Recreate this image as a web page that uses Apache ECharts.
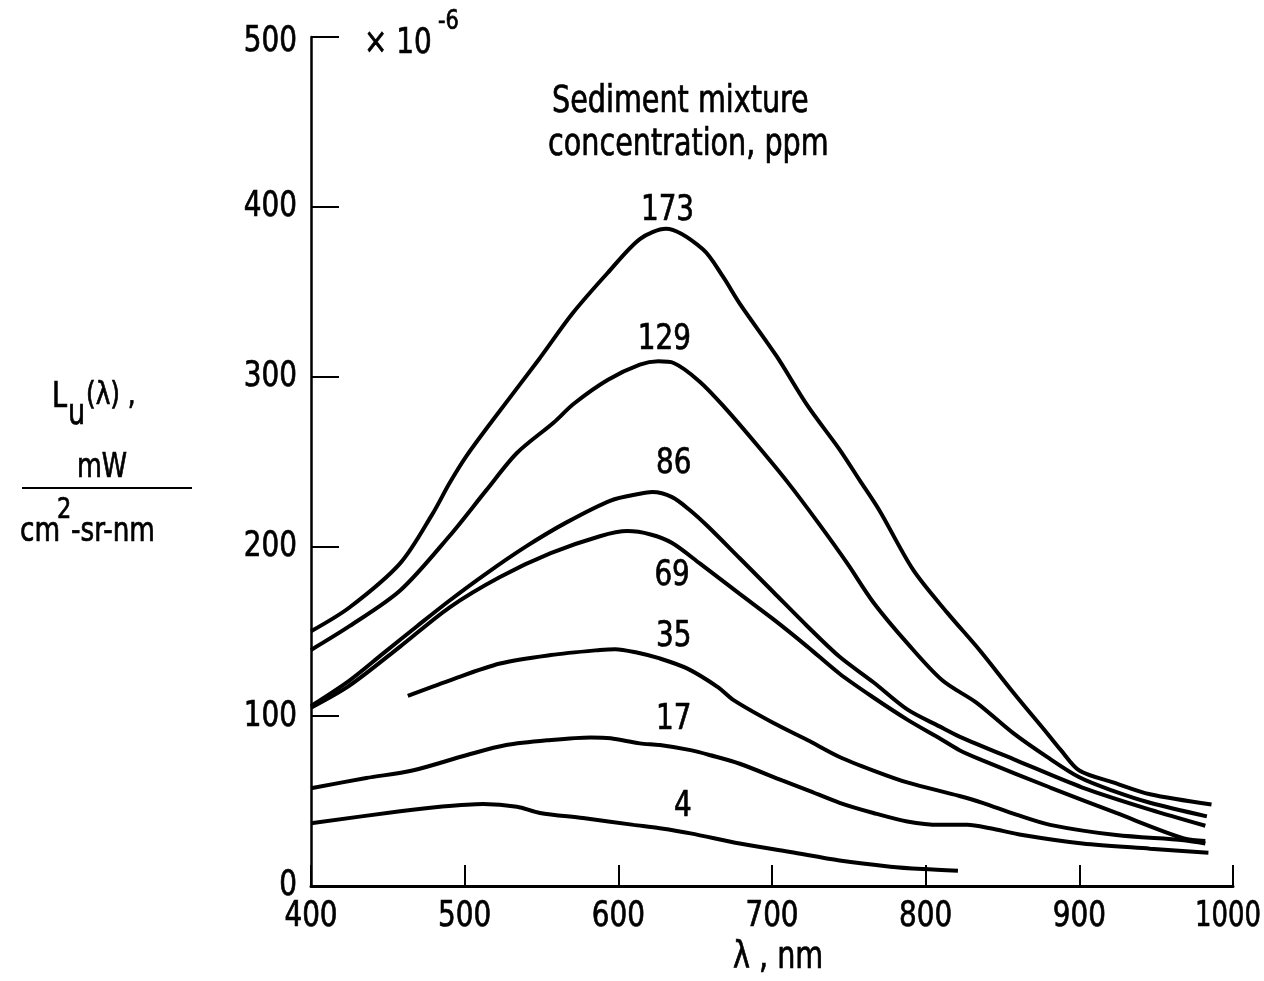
<!DOCTYPE html>
<html><head><meta charset="utf-8">
<script src="https://cdn.jsdelivr.net/npm/echarts@6/dist/echarts.min.js"></script>
<style>html,body{margin:0;padding:0;background:#fff}#c{width:1264px;height:981px}</style>
</head><body><div id="c"></div><script>
// wavelength (nm), radiance (x 1e-6 mW/cm^2-sr-nm)
const xTicks = [400, 500, 600, 700, 800, 900, 1000];
const yTicks = [0, 100, 200, 300, 400, 500];
const concentrations = ['173', '129', '86', '69', '35', '17', '4'];

const c173 = [[400,150],[425,164],[458,190],[479,219],[490,237],[501,253],[518,274],[549,311],[570,337],[593,361],[614,381],[631,387],[655,375],[668,359],[679,343],[703,312],[723,283],[744,257],[757,239],[770,221],[792,186],[814,161],[835,139],[857,114],[879,90],[888,80],[900,68],[922,61],[946,54],[986,48]];
const c129 = [[400,139],[425,153],[458,174],[490,206],[514,233],[534,255],[558,273],[571,284],[593,298],[614,307],[626,309],[636,308],[653,297],[670,281],[690,260],[710,238],[730,214],[749,190],[766,167],[789,142],[811,121],[833,108],[857,90],[879,76],[900,64],[922,56],[946,49],[983,41]];
const c86 = [[400,106],[425,121],[447,137],[469,153],[490,168],[514,184],[540,200],[566,214],[595,227],[614,231],[622,232],[635,229],[647,221],[658,212],[679,193],[701,173],[723,153],[744,135],[766,120],[788,104],[809,94],[822,88],[859,74],[902,58],[946,45],[982,35.5]];
const c69 = [[400,105],[425,118],[458,141],[490,164],[523,182],[556,196],[588,206],[606,209],[621,207],[635,202],[653,190],[679,172],[701,157],[723,141],[744,125],[766,111],[788,98],[809,87],[822,80],[837,74],[881,58],[924,43],[968,28],[982,26.5]];
const c35 = [[463,112],[490,121],[523,131],[556,136],[588,139],[598,139.5],[612,137.5],[627,134],[645,128],[665,117],[675,109.5],[701,96],[723,86],[744,76],[766,68],[788,61],[822,53],[837,49],[859,42],[881,36],[924,30],[968,27],[982,25]];
const c17 = [[400,57.6],[436,63.6],[466,68],[501,77],[527,83],[556,86],[582,87.5],[595,87],[614,84],[627,83],[647,80],[660,77],[679,72],[707,62],[723,56.5],[744,49],[766,43],[788,38],[809,36],[827,36],[842,34],[863,30],[902,25],[946,22],[984,19.6]];
const c4 = [[400,37],[458,44],[484,46.7],[512,48.3],[534,46.7],[549,43],[577,40],[610,36],[627,34],[647,31],[679,25],[712,20],[744,15],[777,11.4],[798,10],[821,9]];

// positions of the curve labels (data units)
const labelPos = [[632,398],[630,322],[636,249],[635,183],[636,147],[636,98],[642,46.5]];

const curves = [c173, c129, c86, c69, c35, c17, c4];
const FONT = '"Liberation Sans Narrow","DejaVu Sans Condensed","Arial Narrow","Liberation Sans",sans-serif';
const SX = 0.86; // horizontal squeeze to imitate the condensed typeface

const chart = echarts.init(document.getElementById('c'), null, {renderer: 'canvas'});

const series = curves.map((d, i) => ({
  type: 'line', name: concentrations[i], data: d, showSymbol: false, symbol: 'none',
  smooth: 0.3, lineStyle: {color: '#000', width: 4}, silent: true, z: 3
}));

function style(s, size, align, vAlign) {
  return {text: s, font: size + 'px ' + FONT, fill: '#000', stroke: '#000', lineWidth: 0.7,
    align: align || 'left', verticalAlign: vAlign || 'top'};
}
function txt(x, y, s, size) {
  return {type: 'text', x: x, y: y, scaleX: SX, z: 10, style: style(s, size)};
}

const staticGraphics = [
  txt(364, 26, '× 10', 36),
  txt(438, 8, '-6', 27),
  txt(552, 84, 'Sediment mixture', 37),
  txt(548, 127, 'concentration, ppm', 37),
  txt(733, 940, 'λ , nm', 37),
  txt(52, 380, 'L', 35),
  txt(68, 397, 'u', 35),
  txt(86, 380, '(λ) ,', 32),
  txt(77, 452, 'mW', 33),
  {type: 'line', shape: {x1: 22, y1: 488, x2: 192, y2: 488}, style: {stroke: '#000', lineWidth: 2}},
  txt(20, 515, 'cm', 34),
  txt(57, 496, '2', 29),
  txt(71, 515, '-sr-nm', 34)
];

chart.setOption({
  backgroundColor: '#fff',
  animation: false,
  grid: {left: 311, right: 31, top: 37, bottom: 95, containLabel: false, outerBoundsMode: 'none'},
  xAxis: {
    type: 'value', min: xTicks[0], max: xTicks[xTicks.length - 1], interval: 100,
    axisLine: {lineStyle: {color: '#000', width: 3}},
    axisTick: {inside: true, length: 21, lineStyle: {color: '#000', width: 2}},
    axisLabel: {show: false},
    splitLine: {show: false}
  },
  yAxis: {
    type: 'value', min: yTicks[0], max: yTicks[yTicks.length - 1], interval: 100,
    axisLine: {show: true, lineStyle: {color: '#000', width: 2.5}},
    axisTick: {show: true, inside: true, length: 28, lineStyle: {color: '#000', width: 2}},
    axisLabel: {show: false},
    splitLine: {show: false}
  },
  series: series,
  graphic: staticGraphics
});

// tick labels and curve labels placed through the chart's own coordinate conversion
const extra = [];
xTicks.forEach((v, i) => {
  const p = chart.convertToPixel({gridIndex: 0}, [v, yTicks[0]]);
  const nudge = i === xTicks.length - 1 ? -5 : 0;
  extra.push({type: 'text', x: p[0] + nudge, y: p[1] + 31, scaleX: i === xTicks.length - 1 ? 0.8 : SX, z: 10,
    style: style(String(v), 36, 'center', 'middle')});
});
yTicks.forEach(v => {
  const p = chart.convertToPixel({gridIndex: 0}, [xTicks[0], v]);
  extra.push({type: 'text', x: p[0] - 14, y: p[1] + (v === 500 ? 5 : 0), scaleX: SX, z: 10,
    style: style(String(v), 36, 'right', 'middle')});
});
labelPos.forEach((pos, i) => {
  const p = chart.convertToPixel({gridIndex: 0}, pos);
  extra.push({type: 'text', x: p[0], y: p[1], scaleX: SX, z: 10,
    style: style(concentrations[i], 36, 'center', 'middle')});
});
chart.setOption({graphic: staticGraphics.concat(extra)});
</script></body></html>
